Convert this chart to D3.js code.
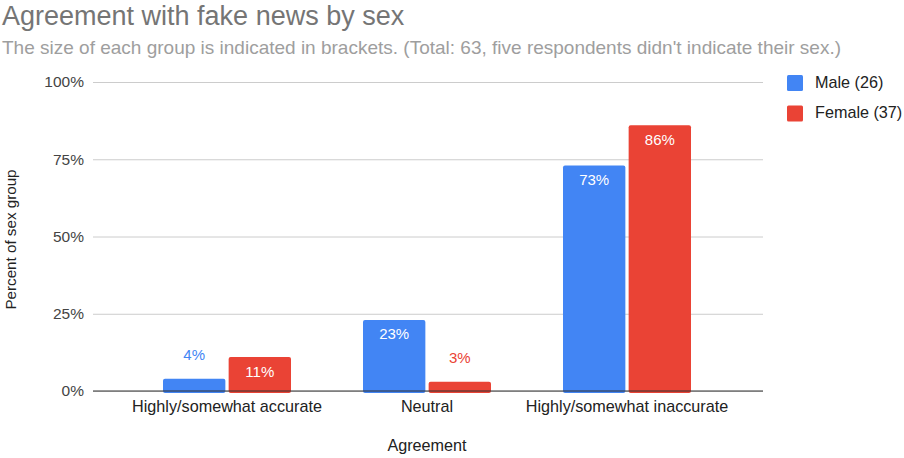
<!DOCTYPE html>
<html>
<head>
<meta charset="utf-8">
<script src="https://cdn.jsdelivr.net/npm/d3@7"></script>
<style>
  html, body { margin: 0; padding: 0; background: #fff; }
  svg { display: block; font-family: Arial, "Liberation Sans", sans-serif; }
</style>
</head>
<body>
<svg id="chart" width="904" height="458"></svg>
<script>
// Agreement categories and the share of each sex group (percent)
const categories = ["Highly/somewhat accurate", "Neutral", "Highly/somewhat inaccurate"];
const seriesNames = ["Male (26)", "Female (37)"];
const maleValues = [4, 23, 73];
const femaleValues = [11, 3, 86];
const seriesColors = ["#4285F4", "#EA4335"];
const yTicks = [0, 25, 50, 75, 100];

const FONT = 'Arial, "Liberation Sans", sans-serif';
const svg = d3.select("#chart");

const plot = { left: 93, right: 763, top: 82, bottom: 391 };

const y = d3.scaleLinear().domain([0, 100]).range([plot.bottom, plot.top]);
const x0 = d3.scaleBand().domain(categories).range([127, 727]).paddingInner(0.36).paddingOuter(0.18);
const x1 = d3.scaleBand().domain([0, 1]).range([0, x0.bandwidth()]).paddingInner(0.05);

// Title and subtitle
svg.append("text").attr("x", 2).attr("y", 25)
  .attr("font-size", 27).attr("fill", "#757575")
  .text("Agreement with fake news by sex");
svg.append("text").attr("x", 2).attr("y", 54)
  .attr("font-size", 19).attr("fill", "#9e9e9e")
  .text("The size of each group is indicated in brackets. (Total: 63, five respondents didn't indicate their sex.)");

// Gridlines and y tick labels
const yAxis = d3.axisLeft(y).tickValues(yTicks).tickFormat(d => d + "%")
  .tickSize(-(plot.right - plot.left)).tickPadding(9);
const gy = svg.append("g").attr("transform", `translate(${plot.left},0)`).call(yAxis);
gy.select(".domain").remove();
gy.selectAll(".tick line").attr("stroke", "#cccccc");
gy.selectAll(".tick text").attr("font-size", 15.5).attr("fill", "#444").attr("font-family", FONT);

// Bars
const groups = svg.append("g").selectAll("g").data(categories).join("g")
  .attr("transform", d => `translate(${x0(d)},0)`);

groups.each(function (c, i) {
  const g = d3.select(this);
  const data = [
    { s: 0, v: maleValues[i] },
    { s: 1, v: femaleValues[i] }
  ];
  g.selectAll("rect").data(data).join("rect")
    .attr("x", d => x1(d.s))
    .attr("y", d => y(d.v))
    .attr("width", x1.bandwidth())
    .attr("height", d => y(0) - y(d.v) + 2)
    .attr("rx", 2)
    .attr("fill", d => seriesColors[d.s]);

  // value labels: inside tall bars, above short ones
  const inside = d => (y(0) - y(d.v)) > 30;
  g.selectAll("text.val").data(data).join("text")
    .attr("class", "val")
    .attr("x", d => x1(d.s) + x1.bandwidth() / 2)
    .attr("y", d => inside(d) ? y(d.v) + 19.5 : y(d.v) - 19)
    .attr("text-anchor", "middle")
    .attr("font-size", 15)
    .attr("fill", d => inside(d) ? "#ffffff" : seriesColors[d.s])
    .text(d => d.v + "%");
});

// Baseline
svg.append("line")
  .attr("x1", plot.left).attr("x2", plot.right)
  .attr("y1", y(0)).attr("y2", y(0))
  .attr("stroke", "#333").attr("stroke-width", 1.2);

// X category labels
const xAxis = d3.axisBottom(x0).tickSize(0).tickPadding(9);
const gx = svg.append("g").attr("transform", `translate(0,${y(0)})`).call(xAxis);
gx.select(".domain").remove();
gx.selectAll(".tick text").attr("font-size", 16.2).attr("fill", "#222").attr("font-family", FONT);

// Axis titles
svg.append("text")
  .attr("x", (x0.range()[0] + x0.range()[1]) / 2).attr("y", 451)
  .attr("text-anchor", "middle").attr("font-size", 16.2).attr("fill", "#222")
  .text("Agreement");
svg.append("text")
  .attr("transform", `translate(16,${(plot.top + plot.bottom) / 2 + 3}) rotate(-90)`)
  .attr("text-anchor", "middle").attr("font-size", 15.2).attr("fill", "#222")
  .text("Percent of sex group");

// Legend
const legend = svg.append("g").attr("transform", "translate(787,75)");
const items = legend.selectAll("g").data(seriesNames).join("g")
  .attr("transform", (d, i) => `translate(0,${i * 30.5})`);
items.append("rect").attr("width", 16).attr("height", 16).attr("rx", 1.5)
  .attr("fill", (d, i) => seriesColors[i]);
items.append("text").attr("x", 28).attr("y", 12.5)
  .attr("font-size", 16.2).attr("fill", "#222").text(d => d);
</script>
</body>
</html>
